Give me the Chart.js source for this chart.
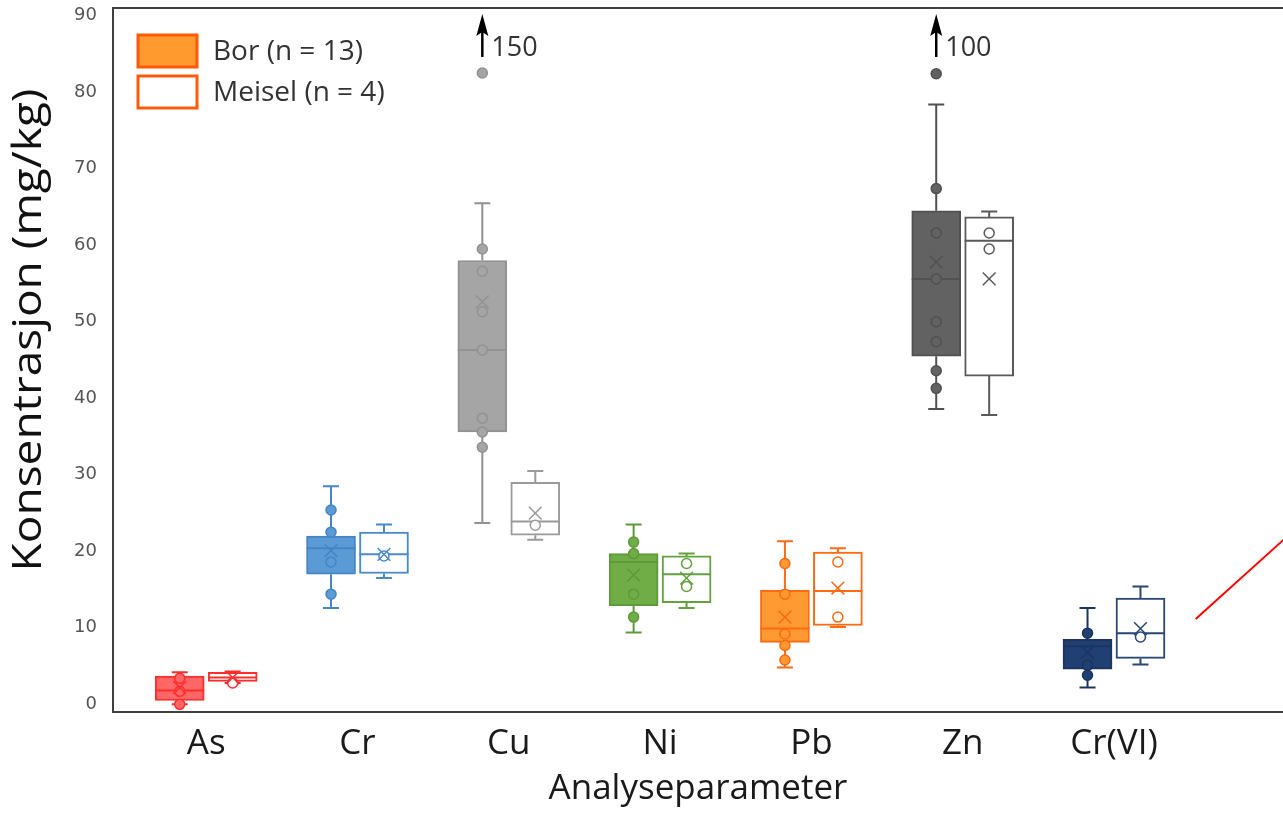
<!DOCTYPE html>
<html>
<head>
<meta charset="utf-8">
<title>Konsentrasjon per analyseparameter</title>
<script src="https://cdn.jsdelivr.net/npm/chart.js@4.4.1/dist/chart.umd.min.js"></script>
<style>
  html, body { margin: 0; padding: 0; background: #fff; overflow: hidden; }
  #wrap { width: 1283px; height: 835px; position: relative; }
</style>
</head>
<body>
<div id="wrap"><canvas id="chart"></canvas></div>
<script>
const categories = ['As', 'Cr', 'Cu', 'Ni', 'Pb', 'Zn', 'Cr(VI)'];
const yTicks = [0, 10, 20, 30, 40, 50, 60, 70, 80, 90];

// Bor (n = 13)
const borMin      = [0.0, 12.6, 23.7,  9.4,  4.8, 38.6,  2.2];
const borQ1       = [0.5, 17.0, 35.6, 12.9,  8.1, 45.5,  4.6];
const borMedian   = [1.8, 20.4, 46.3, 18.6,  9.9, 55.6,  7.6];
const borQ3       = [3.7, 22.0, 58.0, 19.7, 14.9, 64.5,  8.5];
const borMax      = [4.2, 28.5, 65.5, 23.5, 21.3, 78.4, 12.6];
const borMean     = [2.2, 20.1, 52.6, 16.9, 11.4, 57.8,  6.8];
const borPoints   = [
  [3.4, 1.7, 0.0],
  [25.4, 22.5, 18.6, 14.4],
  [59.5, 56.6, 51.3, 46.3, 37.4, 35.6, 33.6],
  [21.2, 19.7, 14.4, 11.4],
  [18.4, 14.4, 9.2, 7.7, 5.8],
  [67.4, 61.6, 55.6, 50.0, 47.4, 43.6, 41.3],
  [9.3, 5.1, 3.8]
];
const borOutliers = [[], [], [82.5], [], [], [82.4], []];

// Meisel (n = 4)
const meiselMin    = [2.8, 16.5, 21.5, 12.6, 10.1, 37.8,  5.2];
const meiselQ1     = [3.0, 17.1, 22.1, 13.3, 10.3, 42.9,  6.0];
const meiselMedian = [3.5, 19.6, 23.9, 17.0, 14.8, 60.6,  9.3];
const meiselQ3     = [4.2, 22.5, 29.0, 19.4, 19.9, 63.7, 13.9];
const meiselMax    = [4.3, 23.5, 30.5, 19.7, 20.4, 64.4, 15.4];
const meiselMean   = [3.5, 19.6, 25.0, 16.5, 15.2, 55.6,  9.9];
const meiselPoints = [[2.8], [19.4], [23.4], [18.4, 15.4], [18.6, 11.4], [61.6, 59.5], [8.8]];

// values above the axis, marked with an arrow
const offscaleCats   = ['Cu', 'Zn'];
const offscaleValues = [150, 100];

// red pointer line (data coordinates)
const pointerX = [6.54, 7.35];
const pointerY = [11.15, 25.6];

// colours per category
const borFill    = ['#FF6666', '#5B9BD5', '#A5A5A5', '#70AD47', '#FF9A33', '#626262', '#203F73'];
const borLine    = ['#FF2E2E', '#4585C4', '#929292', '#5E9A3A', '#FF6A12', '#515151', '#1C355F'];
const meiselLine = ['#FF2E2E', '#4A8ACB', '#9A9A9A', '#62A23E', '#FF6A12', '#5A5A5A', '#2A4775'];

const GROUP_OFFSET = 0.175;
const BOX_WIDTH = 49;

function flatPoints(lists, off) {
  const out = [];
  lists.forEach((vals, i) => vals.forEach(v => out.push({ x: i + off, y: v, c: i })));
  return out;
}

const borPointData = flatPoints(borPoints, -GROUP_OFFSET).concat(flatPoints(borOutliers, -GROUP_OFFSET));
const meiselPointData = flatPoints(meiselPoints, GROUP_OFFSET);

// whiskers and medians on top of each box dataset
const whiskerPlugin = {
  id: 'whiskers',
  afterDatasetDraw(chart, args) {
    const ds = chart.data.datasets[args.index];
    if (!ds.whisker) return;
    const y = chart.scales.y;
    const ctx = chart.ctx;
    const w = ds.whisker;
    ctx.save();
    args.meta.data.forEach((el, i) => {
      const x = el.x;
      const half = el.width / 2;
      ctx.strokeStyle = w.color[i];
      ctx.lineWidth = 2;
      ctx.beginPath();
      ctx.moveTo(x, y.getPixelForValue(w.q3[i]));
      ctx.lineTo(x, y.getPixelForValue(w.max[i]));
      ctx.moveTo(x - 8, y.getPixelForValue(w.max[i]));
      ctx.lineTo(x + 8, y.getPixelForValue(w.max[i]));
      ctx.moveTo(x, y.getPixelForValue(w.q1[i]));
      ctx.lineTo(x, y.getPixelForValue(w.min[i]));
      ctx.moveTo(x - 8, y.getPixelForValue(w.min[i]));
      ctx.lineTo(x + 8, y.getPixelForValue(w.min[i]));
      ctx.moveTo(x - half, y.getPixelForValue(w.median[i]));
      ctx.lineTo(x + half, y.getPixelForValue(w.median[i]));
      ctx.stroke();
    });
    ctx.restore();
  }
};

// frame top line, y title, legend, arrows, pointer
const extrasPlugin = {
  id: 'extras',
  afterDraw(chart) {
    const { ctx, chartArea: a, scales: { x, y } } = chart;
    ctx.save();

    ctx.strokeStyle = '#404040';
    ctx.lineWidth = 2;
    ctx.beginPath();
    ctx.moveTo(a.left, a.top);
    ctx.lineTo(a.right, a.top);
    ctx.stroke();

    // y title (stretched a little along its length to match the original)
    ctx.save();
    ctx.translate(30, 330);
    ctx.rotate(-Math.PI / 2);
    ctx.scale(1.15, 1);
    ctx.fillStyle = '#111';
    ctx.font = '40px "Open Sans"';
    ctx.textAlign = 'center';
    ctx.textBaseline = 'middle';
    ctx.fillText('Konsentrasjon (mg/kg)', 0, 0);
    ctx.restore();

    // legend
    const legendFill = ['#FF9A2E', '#FFFFFF'];
    const boxes = chart.data.datasets.filter(d => d.type === 'bar');
    boxes.forEach((d, k) => {
      const top = a.top + 27 + k * 41;
      ctx.fillStyle = legendFill[k];
      ctx.fillRect(a.left + 25, top, 59, 32);
      ctx.strokeStyle = '#FF5A0A';
      ctx.lineWidth = 3;
      ctx.strokeRect(a.left + 25, top, 59, 32);
      ctx.fillStyle = '#333';
      ctx.font = '28px "Open Sans"';
      ctx.textAlign = 'left';
      ctx.textBaseline = 'middle';
      ctx.fillText(d.label, a.left + 100, top + 17);
    });

    // arrows for off-scale values
    offscaleCats.forEach((cat, k) => {
      const px = x.getPixelForValue(categories.indexOf(cat) - GROUP_OFFSET);
      const yTip = y.getPixelForValue(90.2);
      const yEnd = y.getPixelForValue(84.6);
      ctx.strokeStyle = '#000';
      ctx.fillStyle = '#000';
      ctx.lineWidth = 2.5;
      ctx.beginPath();
      ctx.moveTo(px, yEnd);
      ctx.lineTo(px, yTip + 10);
      ctx.stroke();
      ctx.beginPath();
      ctx.moveTo(px, yTip);
      ctx.lineTo(px - 6, yTip + 22);
      ctx.lineTo(px, yTip + 18);
      ctx.lineTo(px + 6, yTip + 22);
      ctx.closePath();
      ctx.fill();
      ctx.fillStyle = '#333';
      ctx.font = '27px "Open Sans"';
      ctx.textAlign = 'left';
      ctx.textBaseline = 'middle';
      ctx.fillText(String(offscaleValues[k]), px + 9, y.getPixelForValue(85.7));
    });

    // red pointer line
    ctx.strokeStyle = '#FF0000';
    ctx.lineWidth = 2;
    ctx.beginPath();
    ctx.moveTo(x.getPixelForValue(pointerX[0]), y.getPixelForValue(pointerY[0]));
    ctx.lineTo(x.getPixelForValue(pointerX[1]), y.getPixelForValue(pointerY[1]));
    ctx.stroke();

    ctx.restore();
  }
};

Chart.defaults.font.family = '"Open Sans", sans-serif';

new Chart(document.getElementById('chart'), {
  type: 'bar',
  data: {
    datasets: [
      {
        type: 'bar',
        label: 'Bor (n = 13)',
        data: categories.map((c, i) => ({ x: i - GROUP_OFFSET, y: [borQ1[i], borQ3[i]] })),
        backgroundColor: borFill,
        borderColor: borLine,
        borderWidth: 2,
        borderSkipped: false,
        barThickness: BOX_WIDTH,
        grouped: false,
        order: 3,
        whisker: { min: borMin, q1: borQ1, median: borMedian, q3: borQ3, max: borMax, color: borLine }
      },
      {
        type: 'bar',
        label: 'Meisel (n = 4)',
        data: categories.map((c, i) => ({ x: i + GROUP_OFFSET, y: [meiselQ1[i], meiselQ3[i]] })),
        backgroundColor: '#FFFFFF',
        borderColor: meiselLine,
        borderWidth: 2,
        borderSkipped: false,
        barThickness: BOX_WIDTH,
        grouped: false,
        order: 3,
        whisker: { min: meiselMin, q1: meiselQ1, median: meiselMedian, q3: meiselQ3, max: meiselMax, color: meiselLine }
      },
      {
        type: 'scatter',
        label: 'Bor punkter',
        data: borPointData,
        backgroundColor: borPointData.map(p => borFill[p.c]),
        borderColor: borPointData.map(p => borLine[p.c]),
        borderWidth: 1.5,
        pointRadius: 5,
        order: 1
      },
      {
        type: 'scatter',
        label: 'Meisel punkter',
        data: meiselPointData,
        backgroundColor: '#FFFFFF',
        borderColor: meiselPointData.map(p => meiselLine[p.c]),
        borderWidth: 1.5,
        pointRadius: 5,
        order: 1
      },
      {
        type: 'scatter',
        label: 'Bor gjennomsnitt',
        data: categories.map((c, i) => ({ x: i - GROUP_OFFSET, y: borMean[i] })),
        pointStyle: 'crossRot',
        pointRadius: 9,
        borderWidth: 1.5,
        borderColor: borLine,
        order: 0
      },
      {
        type: 'scatter',
        label: 'Meisel gjennomsnitt',
        data: categories.map((c, i) => ({ x: i + GROUP_OFFSET, y: meiselMean[i] })),
        pointStyle: 'crossRot',
        pointRadius: 9,
        borderWidth: 1.5,
        borderColor: meiselLine,
        order: 0
      }
    ]
  },
  options: {
    responsive: true,
    maintainAspectRatio: false,
    animation: false,
    events: [],
    layout: { autoPadding: false, padding: { top: 8, right: 0, bottom: 0, left: 0 } },
    plugins: {
      legend: { display: false },
      tooltip: { enabled: false }
    },
    scales: {
      x: {
        type: 'linear',
        min: -0.616,
        max: 7.117,
        offset: false,
        grid: { display: false, drawTicks: false },
        border: { display: true, color: '#404040', width: 2 },
        afterBuildTicks: (s) => { s.ticks = categories.map((c, i) => ({ value: i })); },
        afterFit: (s) => { s.height = 123; s.paddingLeft = 0; s.paddingRight = 0; },
        ticks: {
          autoSkip: false,
          maxRotation: 0,
          padding: 11,
          color: '#1a1a1a',
          font: { size: 35 },
          callback: (v) => categories[v]
        },
        title: {
          display: true,
          text: 'Analyseparameter',
          color: '#1a1a1a',
          font: { size: 35 },
          padding: { top: 0, bottom: 25 }
        }
      },
      y: {
        min: -1,
        max: 91,
        grid: { display: false, drawTicks: false },
        border: { display: true, color: '#404040', width: 2 },
        afterBuildTicks: (s) => { s.ticks = yTicks.map(v => ({ value: v })); },
        afterFit: (s) => { s.width = 113; s.paddingTop = 0; s.paddingBottom = 0; },
        ticks: {
          padding: 16,
          color: '#555555',
          font: { family: '"DejaVu Sans"', size: 18 }
        }
      }
    }
  },
  plugins: [whiskerPlugin, extrasPlugin]
});
</script>
</body>
</html>
